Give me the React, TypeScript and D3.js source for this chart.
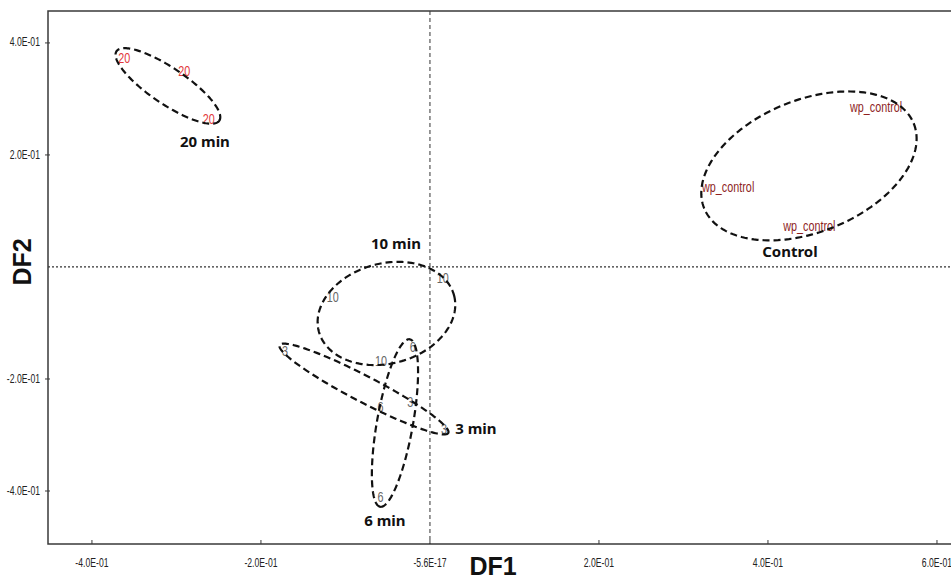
import React, { useEffect, useRef } from "react";
import * as d3 from "d3";

// axis ticks as printed by the stats package
const xTickValues = [-0.4, -0.2, -5.6e-17, 0.2, 0.4, 0.6];
const xTickLabels = ["-4.0E-01", "-2.0E-01", "-5.6E-17", "2.0E-01", "4.0E-01", "6.0E-01"];
const yTickValues = [0.4, 0.2, -0.2, -0.4];
const yTickLabels = ["4.0E-01", "2.0E-01", "-2.0E-01", "-4.0E-01"];

// discriminant scores (one label per sample)
const pointLabels = ["20", "20", "20", "wp_control", "wp_control", "wp_control", "10", "10", "10", "3", "3", "3", "6", "6", "6"];
const pointDF1 = [-0.369, -0.298, -0.269, 0.497, 0.322, 0.418, -0.122, 0.008, -0.065, -0.175, -0.027, 0.013, -0.024, -0.062, -0.062];
const pointDF2 = [0.371, 0.348, 0.2625, 0.284, 0.141, 0.071, -0.055, -0.021, -0.17, -0.152, -0.243, -0.291, -0.145, -0.252, -0.4125];

// group ellipses (centre and semi-axis vectors in DF units)
const groupNames = ["20 min", "Control", "10 min", "3 min", "6 min"];
const ellipseCx = [-0.3101, 0.4485, -0.0515, -0.0781, -0.0414];
const ellipseCy = [0.3232, 0.1804, -0.083, -0.2179, -0.2786];
const ellipseAx = [0.0608, 0.124, 0.08, 0.0998, -0.0175];
const ellipseAy = [-0.062, 0.0757, 0.0323, -0.0784, -0.1495];
const ellipseBx = [-0.012, 0.0293, 0.0153, -0.0071, -0.021];
const ellipseBy = [-0.0266, -0.1093, -0.0863, -0.0206, 0.0055];
const groupLabelDF1 = [-0.2663, 0.426, -0.0402, 0.0544, -0.0533];
const groupLabelDF2 = [0.2214, 0.025, 0.0393, -0.291, -0.4554];

const labelColor = (l: string) =>
  l === "20" ? "#e2383b" : l === "wp_control" ? "#8e1f1f" : "#666666";

const W = 951;
const H = 579;

const App = () => {
  const ref = useRef<SVGSVGElement>(null);

  useEffect(() => {
    if (ref.current) draw(ref.current);
  }, []);

  return (
    <>
      <style>{`body{margin:0;}`}</style>
      <svg ref={ref} width={W} height={H} style={{ display: "block", background: "#fff" }} />
    </>
  );
};

// squeeze text horizontally to mimic the condensed font of the original
function condense(sel: d3.Selection<SVGTextElement, any, any, any>, k: number) {
  sel.each(function () {
    const len = this.getComputedTextLength();
    d3.select(this)
      .attr("textLength", len * k)
      .attr("lengthAdjust", "spacingAndGlyphs");
  });
}

function draw(el: SVGSVGElement) {
  const svg = d3.select(el);
  svg.selectAll("*").remove();

  const left = 48, right = 951, top = 11, bottom = 544;
  const sans = "'Liberation Sans', Arial, sans-serif";

  const x = d3.scaleLinear().domain([-0.452, 0.6166]).range([left, right]);
  const y = d3.scaleLinear().domain([-0.4946, 0.457]).range([bottom, top]);

  // reference lines through the origin
  svg.append("line")
    .attr("x1", x(0)).attr("x2", x(0))
    .attr("y1", top).attr("y2", bottom)
    .attr("stroke", "#333").attr("stroke-width", 1)
    .attr("stroke-dasharray", "4,3");
  svg.append("line")
    .attr("x1", left).attr("x2", right)
    .attr("y1", y(0)).attr("y2", y(0))
    .attr("stroke", "#333").attr("stroke-width", 1.2)
    .attr("stroke-dasharray", "2,2");

  // frame
  svg.append("path")
    .attr("d", `M${right},${top}H${left}V${bottom}H${right}`)
    .attr("fill", "none")
    .attr("stroke", "#3a3a3a")
    .attr("stroke-width", 1.5);

  // x ticks
  const xt = svg.append("g");
  xTickValues.forEach((v, i) => {
    xt.append("line")
      .attr("x1", x(v)).attr("x2", x(v))
      .attr("y1", bottom).attr("y2", bottom - 4)
      .attr("stroke", "#3a3a3a");
    const t = xt.append("text")
      .attr("x", x(v)).attr("y", 563)
      .attr("text-anchor", "middle")
      .attr("dominant-baseline", "middle")
      .style("font-family", sans)
      .style("font-size", "13.5px")
      .attr("fill", "#222")
      .text(xTickLabels[i]);
    condense(t as any, 0.64);
  });

  // y ticks
  const yt = svg.append("g");
  yTickValues.forEach((v, i) => {
    yt.append("line")
      .attr("x1", left - 3).attr("x2", left + 2)
      .attr("y1", y(v)).attr("y2", y(v))
      .attr("stroke", "#3a3a3a");
    const t = yt.append("text")
      .attr("x", 40).attr("y", y(v))
      .attr("text-anchor", "end")
      .attr("dominant-baseline", "middle")
      .style("font-family", sans)
      .style("font-size", "13.5px")
      .attr("fill", "#222")
      .text(yTickLabels[i]);
    condense(t as any, 0.64);
  });

  // axis titles
  svg.append("text")
    .attr("x", 493).attr("y", 575)
    .attr("text-anchor", "middle")
    .style("font-family", sans)
    .style("font-weight", "bold")
    .style("font-size", "25px")
    .attr("fill", "#111")
    .text("DF1");
  svg.append("text")
    .attr("transform", `translate(31,${y(0) - 5}) rotate(-90)`)
    .attr("text-anchor", "middle")
    .style("font-family", sans)
    .style("font-weight", "bold")
    .style("font-size", "25px")
    .attr("fill", "#111")
    .text("DF2");

  // sample labels
  const labels = svg.append("g")
    .selectAll("text")
    .data(pointLabels)
    .join("text")
    .attr("x", (_, i) => x(pointDF1[i]))
    .attr("y", (_, i) => y(pointDF2[i]))
    .attr("dominant-baseline", "middle")
    .style("font-family", sans)
    .style("font-size", "15px")
    .attr("fill", (d) => labelColor(d))
    .text((d) => d);
  condense(labels as any, 0.72);

  // group ellipses
  const line = d3.line<[number, number]>()
    .x((d) => x(d[0]))
    .y((d) => y(d[1]))
    .curve(d3.curveLinearClosed);
  const steps = d3.range(0, 2 * Math.PI, Math.PI / 90);

  svg.append("g")
    .selectAll("path")
    .data(groupNames)
    .join("path")
    .attr("d", (_, i) =>
      line(
        steps.map((t) => [
          ellipseCx[i] + Math.cos(t) * ellipseAx[i] + Math.sin(t) * ellipseBx[i],
          ellipseCy[i] + Math.cos(t) * ellipseAy[i] + Math.sin(t) * ellipseBy[i],
        ])
      )
    )
    .attr("fill", "none")
    .attr("stroke", "#111")
    .attr("stroke-width", 2.2)
    .attr("stroke-dasharray", "7,4");

  // group names
  svg.append("g")
    .selectAll("text")
    .data(groupNames)
    .join("text")
    .attr("x", (_, i) => x(groupLabelDF1[i]))
    .attr("y", (_, i) => y(groupLabelDF2[i]))
    .attr("text-anchor", "middle")
    .attr("dominant-baseline", "middle")
    .style("font-family", "'Noto Sans', sans-serif")
    .style("font-weight", "bold")
    .style("font-size", "15px")
    .attr("fill", "#111")
    .text((d) => d);
}

export default App;
